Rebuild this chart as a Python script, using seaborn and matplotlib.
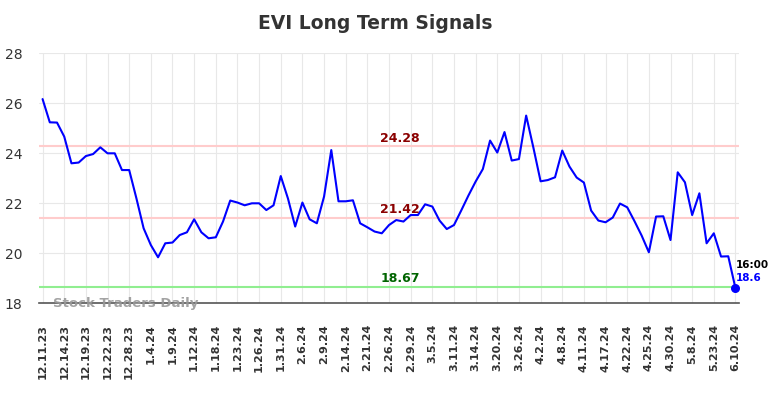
import numpy as np
import pandas as pd
import matplotlib
matplotlib.use("Agg")
import matplotlib.pyplot as plt
import seaborn as sns

# closing prices, one per session
prices = [
    26.17, 25.24, 25.23, 24.67, 23.60, 23.63, 23.89, 23.97, 24.24, 24.00,
    24.00, 23.33, 23.33, 22.20, 21.00, 20.33, 19.84, 20.40, 20.43, 20.73,
    20.84, 21.36, 20.84, 20.60, 20.64, 21.27, 22.11, 22.03, 21.92, 22.00,
    22.00, 21.73, 21.92, 23.09, 22.19, 21.07, 22.03, 21.36, 21.20, 22.27,
    24.13, 22.08, 22.08, 22.12, 21.20, 21.04, 20.87, 20.80, 21.13, 21.33,
    21.27, 21.53, 21.53, 21.96, 21.87, 21.31, 20.97, 21.13, 21.71, 22.31,
    22.87, 23.37, 24.51, 24.03, 24.85, 23.71, 23.77, 25.51, 24.23, 22.88,
    22.93, 23.04, 24.11, 23.47, 23.03, 22.83, 21.71, 21.31, 21.24, 21.43,
    21.99, 21.84, 21.29, 20.71, 20.04, 21.47, 21.48, 20.53, 23.24, 22.84,
    21.53, 22.40, 20.40, 20.80, 19.87, 19.88, 18.60,
]

tick_labels = [
    "12.11.23", "12.14.23", "12.19.23", "12.22.23", "12.28.23", "1.4.24",
    "1.9.24", "1.12.24", "1.18.24", "1.23.24", "1.26.24", "1.31.24",
    "2.6.24", "2.9.24", "2.14.24", "2.21.24", "2.26.24", "2.29.24",
    "3.5.24", "3.11.24", "3.14.24", "3.20.24", "3.26.24", "4.2.24",
    "4.8.24", "4.11.24", "4.17.24", "4.22.24", "4.25.24", "4.30.24",
    "5.8.24", "5.23.24", "6.10.24",
]

resistance_hi = 24.28
resistance_lo = 21.42
support = 18.67
last_time = "16:00"

df = pd.DataFrame({"idx": np.arange(len(prices)), "price": prices})

sns.set_style("whitegrid", {"grid.color": "#e8e8e8"})
fig = plt.figure(figsize=(7.84, 3.98), dpi=100)
ax = fig.add_axes([0.0497, 0.238, 0.893, 0.628])

ax.axhline(resistance_hi, color="#ffcccc", lw=1.5, zorder=1)
ax.axhline(resistance_lo, color="#ffcccc", lw=1.5, zorder=1)
ax.axhline(support, color="#90ee90", lw=1.5, zorder=1)

sns.lineplot(data=df, x="idx", y="price", ax=ax, color="#0000ff", lw=1.5, zorder=3)

last = len(prices) - 1
ax.scatter([last], [prices[-1]], s=30, color="#0000ff", zorder=4)

mid = 49.5
ax.text(mid, resistance_hi + 0.06, f"{resistance_hi:.2f}", color="#8b0000",
        fontsize=9, fontweight="bold", ha="center", va="bottom")
ax.text(mid, resistance_lo + 0.06, f"{resistance_lo:.2f}", color="#8b0000",
        fontsize=9, fontweight="bold", ha="center", va="bottom")
ax.text(mid, support + 0.06, f"{support:.2f}", color="#006400",
        fontsize=9, fontweight="bold", ha="center", va="bottom")

ax.text(last, prices[-1] + 0.95, last_time, color="black", fontsize=7.5,
        fontweight="bold", ha="left", va="center")
ax.text(last, prices[-1] + 0.42, f"{prices[-1]:.1f}", color="#0000ff", fontsize=7.5,
        fontweight="bold", ha="left", va="center")

ax.text(1.5, 18.0, "Stock Traders Daily", color="#999999", fontsize=9.5,
        fontweight="bold", ha="left", va="center", alpha=0.9, zorder=5)

ax.set_xlim(-0.5, last + 0.5)
ax.set_ylim(18, 28)
ax.set_yticks([18, 20, 22, 24, 26, 28])
ax.set_xticks(np.arange(0, len(prices), 3))
ax.set_xticklabels(tick_labels, rotation=90, fontsize=8, fontweight="bold", color="#333333")
ax.tick_params(axis="y", labelsize=10, labelcolor="#333333", length=0, pad=12)
ax.tick_params(axis="x", length=0, pad=15)
ax.set_xlabel("")
ax.set_ylabel("")

for side in ["top", "right", "left"]:
    ax.spines[side].set_visible(False)
ax.spines["bottom"].set_color("#555555")
ax.spines["bottom"].set_linewidth(1.2)

fig.suptitle("EVI Long Term Signals", x=0.478, fontsize=13.5, fontweight="bold",
             color="#333333", y=0.965)

fig.savefig("out.png", dpi=100)
